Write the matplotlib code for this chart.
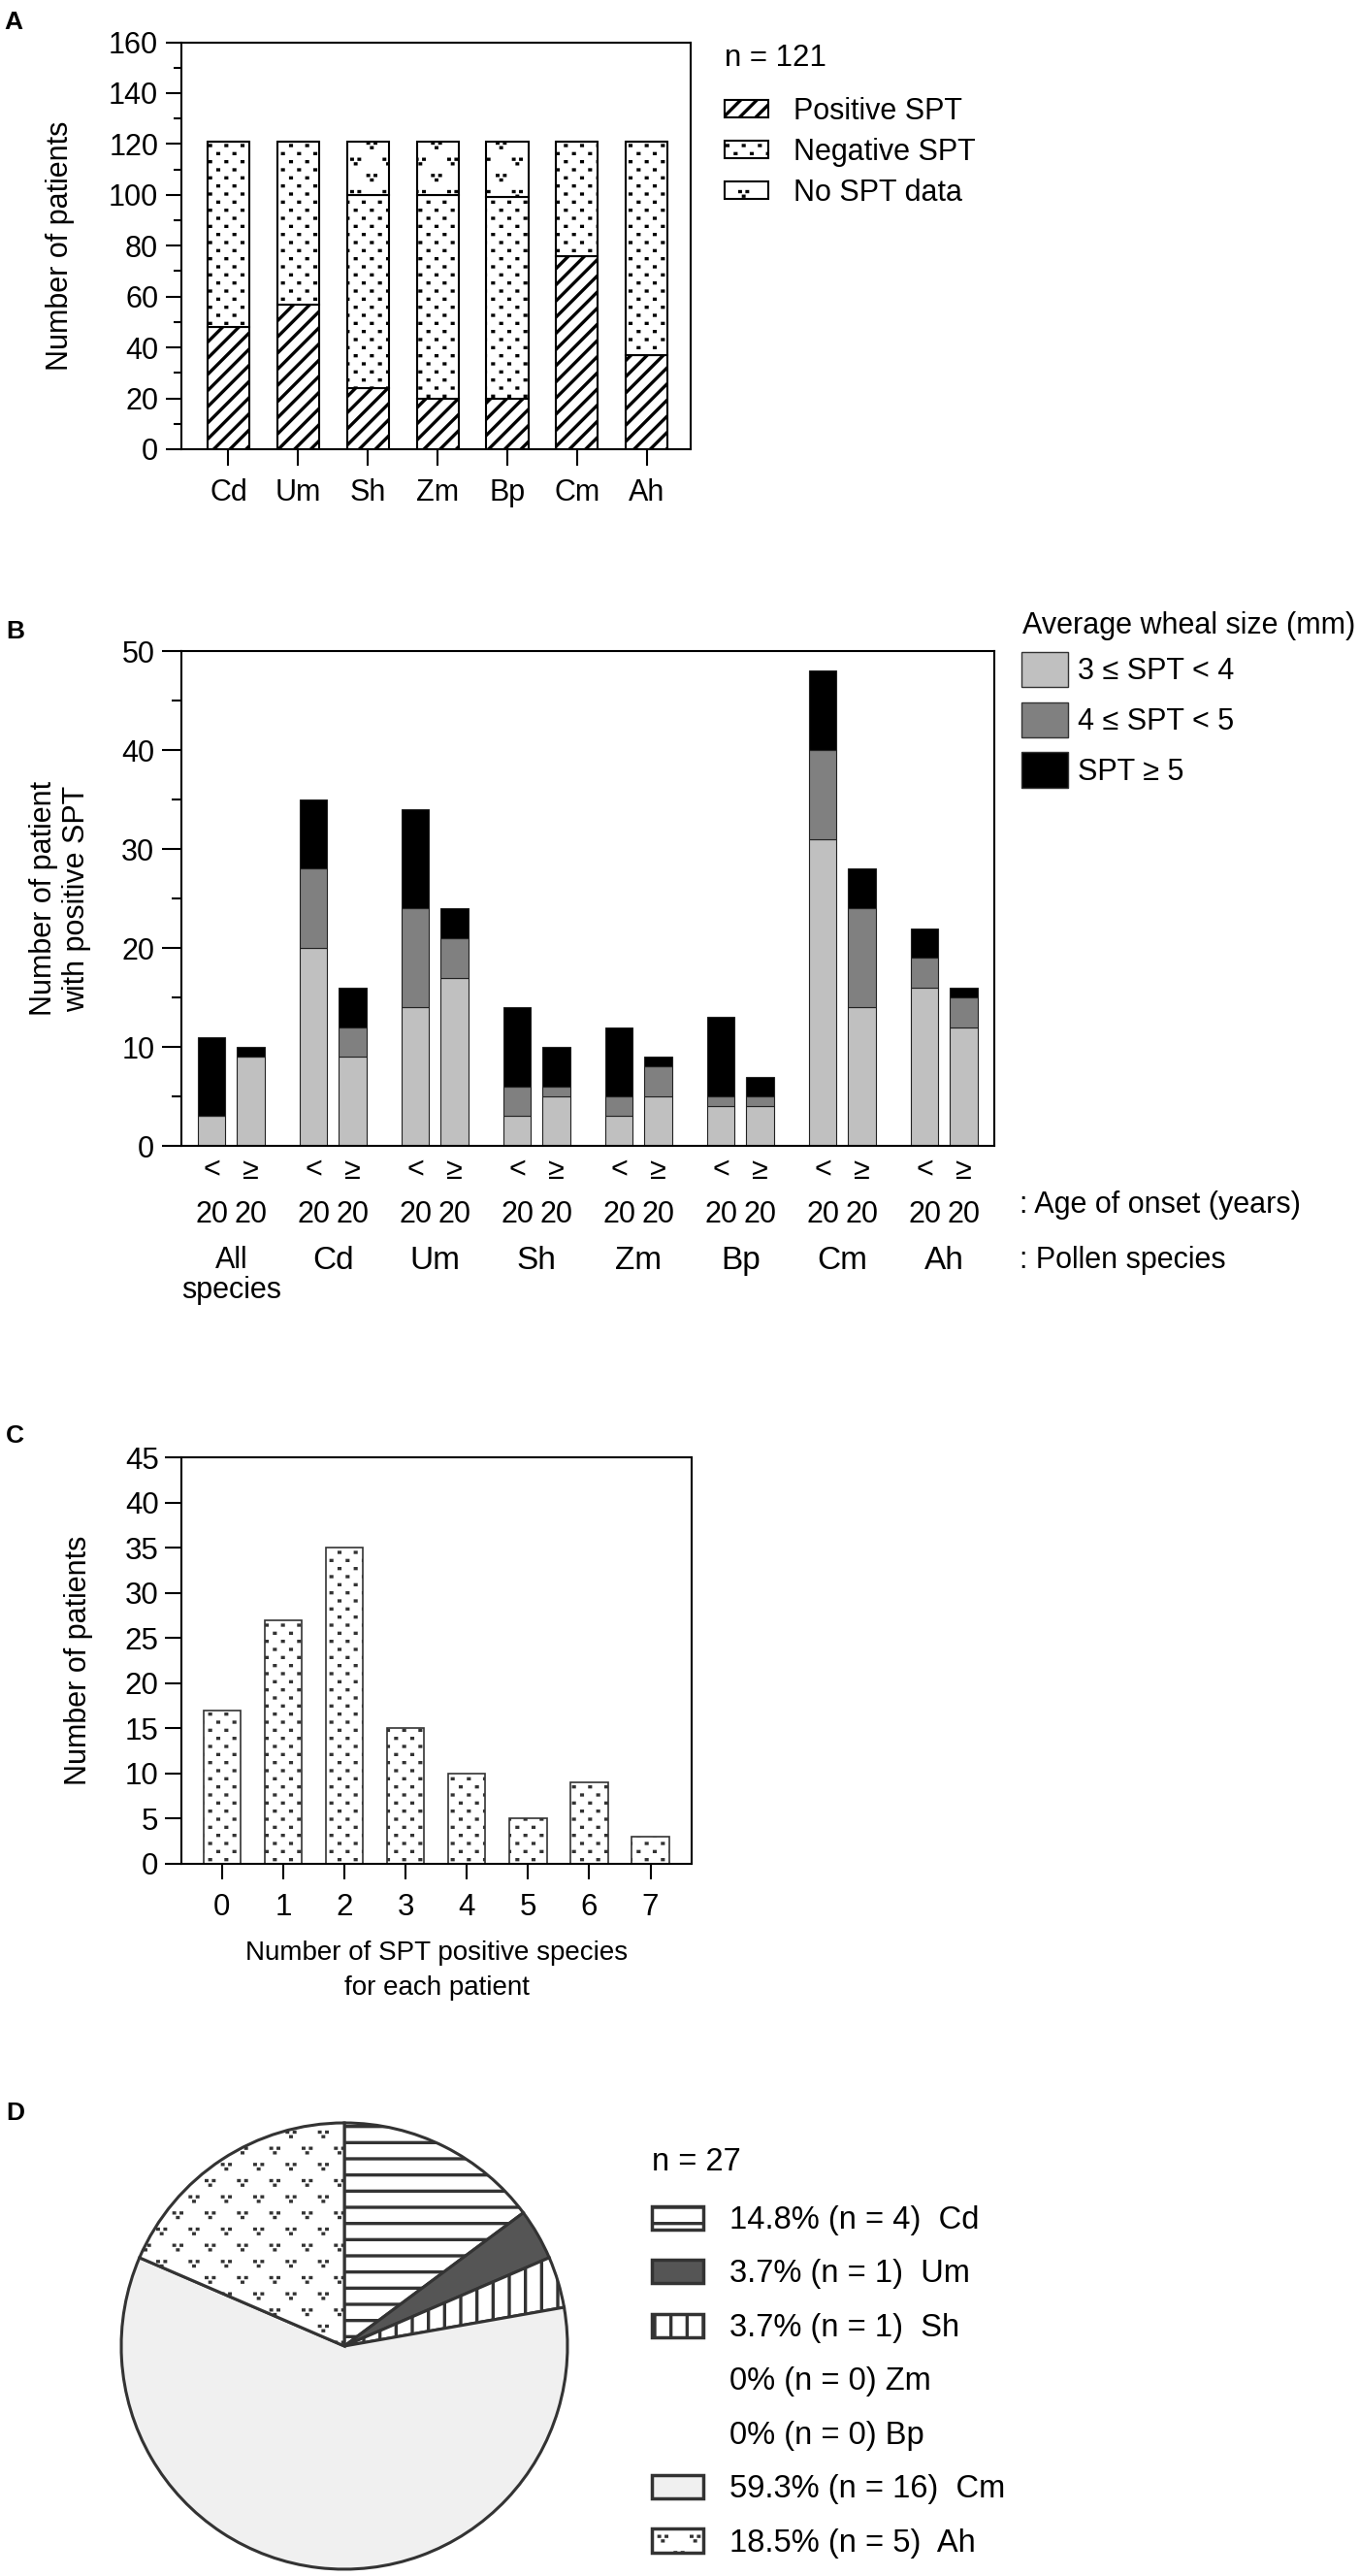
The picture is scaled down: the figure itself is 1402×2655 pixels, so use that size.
import numpy as np
import matplotlib
matplotlib.use('Agg')
import matplotlib.pyplot as plt
import matplotlib.hatch as mhatch
from matplotlib.path import Path
from matplotlib.patches import Patch
from matplotlib.ticker import MultipleLocator

# ---- data ----
species = ['Cd', 'Um', 'Sh', 'Zm', 'Bp', 'Cm', 'Ah']
spt_pos = [48, 57, 24, 20, 20, 76, 37]
spt_neg = [73, 64, 76, 80, 79, 45, 84]
spt_none = [0, 0, 21, 21, 22, 0, 0]
n_total = 121

groups = ['All\nspecies', 'Cd', 'Um', 'Sh', 'Zm', 'Bp', 'Cm', 'Ah']
age_labels = ['<\n20', '≥\n20']
# per group: age of onset < 20, then >= 20
wheal_3_4 = [3, 9, 20, 9, 14, 17, 3, 5, 3, 5, 4, 4, 31, 14, 16, 12]
wheal_4_5 = [0, 0, 8, 3, 10, 4, 3, 1, 2, 3, 1, 1, 9, 10, 3, 3]
wheal_5 = [8, 1, 7, 4, 10, 3, 8, 4, 7, 1, 8, 2, 8, 4, 3, 1]
wheal_labels = ['3 ≤ SPT < 4', '4 ≤ SPT < 5', 'SPT ≥ 5']

n_pos_species = [0, 1, 2, 3, 4, 5, 6, 7]
n_patients = [17, 27, 35, 15, 10, 5, 9, 3]

pie_n = [4, 1, 1, 0, 0, 16, 5]
pie_colors = ['white', '#555555', 'white', 'white', 'white', '#f0f0f0', 'white']
pie_hatches = ['-', '', '|', '', '', '', '*']


# ---- hatch patterns: small square dots on a staggered grid ----
# each dot is a very short stroke, the hatch line width makes it square
class GridHatch(mhatch.HatchPatternBase):
    char = '.'
    nx, ny = 6, 12
    marks = [(0.0, 0.0)]
    half = 0.004

    def __init__(self, hatch, density):
        self.pts = []
        if self.char in hatch:
            for j in range(self.ny + 1):
                off = 0.5 / self.nx if j % 2 else 0.0
                for i in range(self.nx + 1):
                    x = i / self.nx + off
                    if x <= 1.0:
                        for mx, my in self.marks:
                            self.pts.append((x + mx, j / self.ny + my))
        self.num_vertices = 2 * len(self.pts)

    def set_vertices_and_codes(self, vertices, codes):
        seg = np.array([[-self.half, 0.0], [self.half, 0.0]])
        vertices[:] = np.concatenate([seg + p for p in self.pts])
        codes[:] = np.tile([Path.MOVETO, Path.LINETO], len(self.pts))


class VHatch(GridHatch):
    char = '*'
    nx, ny = 3, 6
    half = 0.003
    marks = [(-0.037, 0.025), (0.037, 0.025), (0.0, -0.022)]


mhatch._hatch_types = [t for t in mhatch._hatch_types
                       if t not in (mhatch.SmallFilledCircles, mhatch.Stars)]
mhatch._hatch_types += [GridHatch, VHatch]

plt.rcParams['font.family'] = ['Liberation Sans', 'DejaVu Sans']
plt.rcParams['hatch.linewidth'] = 2.4
plt.rcParams['axes.linewidth'] = 1.5

W, H = 1402, 2655
fig = plt.figure(figsize=(W / 100, H / 100), dpi=100)


def px_axes(left, top, right, bottom):
    return fig.add_axes([left / W, 1 - bottom / H, (right - left) / W, (bottom - top) / H])


def fxy(x, y):
    return x / W, 1 - y / H


for letter, (x, y) in {'A': (4, 30), 'B': (6, 658), 'C': (6, 1487), 'D': (6, 2185)}.items():
    fig.text(*fxy(x, y), letter, fontsize=19, fontweight='bold', va='baseline')

# ---- A ----
ax_a = px_axes(187, 43.5, 712, 463)
xa = np.arange(len(species))
bot_none = np.add(spt_pos, spt_neg)
ax_a.bar(xa, spt_pos, 0.6, color='white', edgecolor='black', hatch='//', lw=1.5)
ax_a.bar(xa, spt_neg, 0.6, bottom=spt_pos, color='white', edgecolor='black', hatch='.', lw=1.5)
ax_a.bar(xa, spt_none, 0.6, bottom=bot_none, color='white', edgecolor='black', hatch='*', lw=1.5)
ax_a.set_xlim(-0.673, 6.629)
ax_a.set_ylim(0, 160)
ax_a.yaxis.set_major_locator(MultipleLocator(20))
ax_a.yaxis.set_minor_locator(MultipleLocator(10))
ax_a.set_xticks(xa, species)
ax_a.tick_params(axis='y', which='major', length=11.3, width=1.5, pad=5.8, labelsize=22)
ax_a.tick_params(axis='y', which='minor', length=5.8, width=1.5)
ax_a.tick_params(axis='x', length=12.2, width=1.5, pad=9.1, labelsize=22)
ax_a.set_ylabel('Number of patients', fontsize=22)
ax_a.yaxis.set_label_coords(-0.2086, 0.5)

fig.text(*fxy(747, 68), f'n = {n_total}', fontsize=22.5, va='baseline')
handles_a = [Patch(facecolor='white', edgecolor='black', hatch=h, lw=1.5) for h in ['//', '.', '*']]
ax_a.legend(handles_a, ['Positive SPT', 'Negative SPT', 'No SPT data'],
            loc='upper left', bbox_to_anchor=fxy(747, 99.7), bbox_transform=fig.transFigure,
            fontsize=22, frameon=False, borderpad=0, borderaxespad=0,
            handlelength=1.47, handleheight=0.513, handletextpad=0.85, labelspacing=0.40)

# ---- B ----
ax_b = px_axes(187, 671, 1025, 1181)
xb = np.array([g + d for g in range(len(groups)) for d in (-0.1925, 0.1925)])
b1 = np.array(wheal_3_4)
b2 = np.array(wheal_4_5)
b3 = np.array(wheal_5)
ax_b.bar(xb, b1, 0.27, color='#c0c0c0', edgecolor='#222222', lw=0.8)
ax_b.bar(xb, b2, 0.27, bottom=b1, color='#808080', edgecolor='#222222', lw=0.8)
ax_b.bar(xb, b3, 0.27, bottom=b1 + b2, color='black', edgecolor='#222222', lw=0.8)
ax_b.set_xlim(-0.488, 7.491)
ax_b.set_ylim(0, 50)
ax_b.yaxis.set_major_locator(MultipleLocator(10))
ax_b.yaxis.set_minor_locator(MultipleLocator(5))
ax_b.set_xticks(xb, [age_labels[i % 2] for i in range(len(xb))])
ax_b.set_xticks(np.arange(len(groups)), groups, minor=True)
ax_b.tick_params(axis='x', which='major', length=0, pad=7.7, labelsize=22)
ax_b.tick_params(axis='x', which='minor', length=0, pad=74, labelsize=24)
ax_b.tick_params(axis='y', which='major', length=14.4, width=1.5, pad=5.5, labelsize=22)
ax_b.tick_params(axis='y', which='minor', length=7.2, width=1.5)
for t in ax_b.get_xticklabels():
    t.set_linespacing(1.66)
minor_labels = ax_b.get_xticklabels(minor=True)
minor_labels[0].set_fontsize(22)
minor_labels[0].set_linespacing(1.05)
ax_b.set_ylabel('Number of patient\nwith positive SPT', fontsize=22)
ax_b.yaxis.set_label_coords(-0.1104, 0.5)
fig.text(*fxy(1051, 1250), ': Age of onset (years)', fontsize=22, va='baseline')
fig.text(*fxy(1051, 1307), ': Pollen species', fontsize=22, va='baseline')

fig.text(*fxy(1054, 653), 'Average wheal size (mm)', fontsize=22, va='baseline')
handles_b = [Patch(facecolor=c, edgecolor='#333333', lw=1.0) for c in ['#c0c0c0', '#808080', 'black']]
ax_b.legend(handles_b, wheal_labels, loc='upper left', bbox_to_anchor=fxy(1053, 671.7),
            bbox_transform=fig.transFigure, fontsize=22, frameon=False, borderpad=0,
            borderaxespad=0, handlelength=1.57, handleheight=1.45, handletextpad=0.33,
            labelspacing=0.51)

# ---- C ----
ax_c = px_axes(187, 1502, 713, 1921)
ax_c.bar(n_pos_species, n_patients, 0.61, color='white', edgecolor='#333333', hatch='.', lw=1.2)
ax_c.set_xlim(-0.662, 7.672)
ax_c.set_ylim(0, 45)
ax_c.yaxis.set_major_locator(MultipleLocator(5))
ax_c.set_xticks(n_pos_species)
ax_c.tick_params(axis='y', length=12.2, width=1.5, pad=4.7, labelsize=22.5)
ax_c.tick_params(axis='x', length=11.5, width=1.5, pad=9.9, labelsize=22.5)
ax_c.set_ylabel('Number of patients', fontsize=22)
ax_c.yaxis.set_label_coords(-0.173, 0.5)
ax_c.set_xlabel('Number of SPT positive species\nfor each patient', fontsize=20, linespacing=1.5)
ax_c.xaxis.set_label_coords(0.5, -0.1885)

# ---- D ----
cx, cy, r = 355, 2418, 230
ax_d = px_axes(cx - 1.05 * r, cy - 1.05 * r, cx + 1.05 * r, cy + 1.05 * r)
shown = [i for i, n in enumerate(pie_n) if n > 0]
ax_d.pie([pie_n[i] for i in shown], colors=[pie_colors[i] for i in shown],
         hatch=[pie_hatches[i] for i in shown], startangle=90, counterclock=False,
         wedgeprops=dict(edgecolor='#333333', linewidth=2.2))
ax_d.set_xlim(-1.05, 1.05)
ax_d.set_ylim(-1.05, 1.05)
ax_d.set_aspect('equal')

pie_total = sum(pie_n)
fig.text(*fxy(672, 2237), f'n = {pie_total}', fontsize=23.5, va='baseline')
handles_d = []
labels_d = []
for sp, n, c, h in zip(species, pie_n, pie_colors, pie_hatches):
    if n > 0:
        handles_d.append(Patch(facecolor=c, edgecolor='#333333', hatch=h, lw=2.5))
        labels_d.append(f'{100 * n / pie_total:.1f}% (n = {n})  {sp}')
    else:
        handles_d.append(Patch(facecolor='none', edgecolor='none'))
        labels_d.append(f'0% (n = 0) {sp}')
ax_d.legend(handles_d, labels_d, loc='upper left', bbox_to_anchor=fxy(672, 2273),
            bbox_transform=fig.transFigure, fontsize=23.5, frameon=False, borderpad=0,
            borderaxespad=0, handlelength=1.63, handleheight=0.76, handletextpad=0.83,
            labelspacing=0.75)

fig.savefig('out.png', dpi=100)
